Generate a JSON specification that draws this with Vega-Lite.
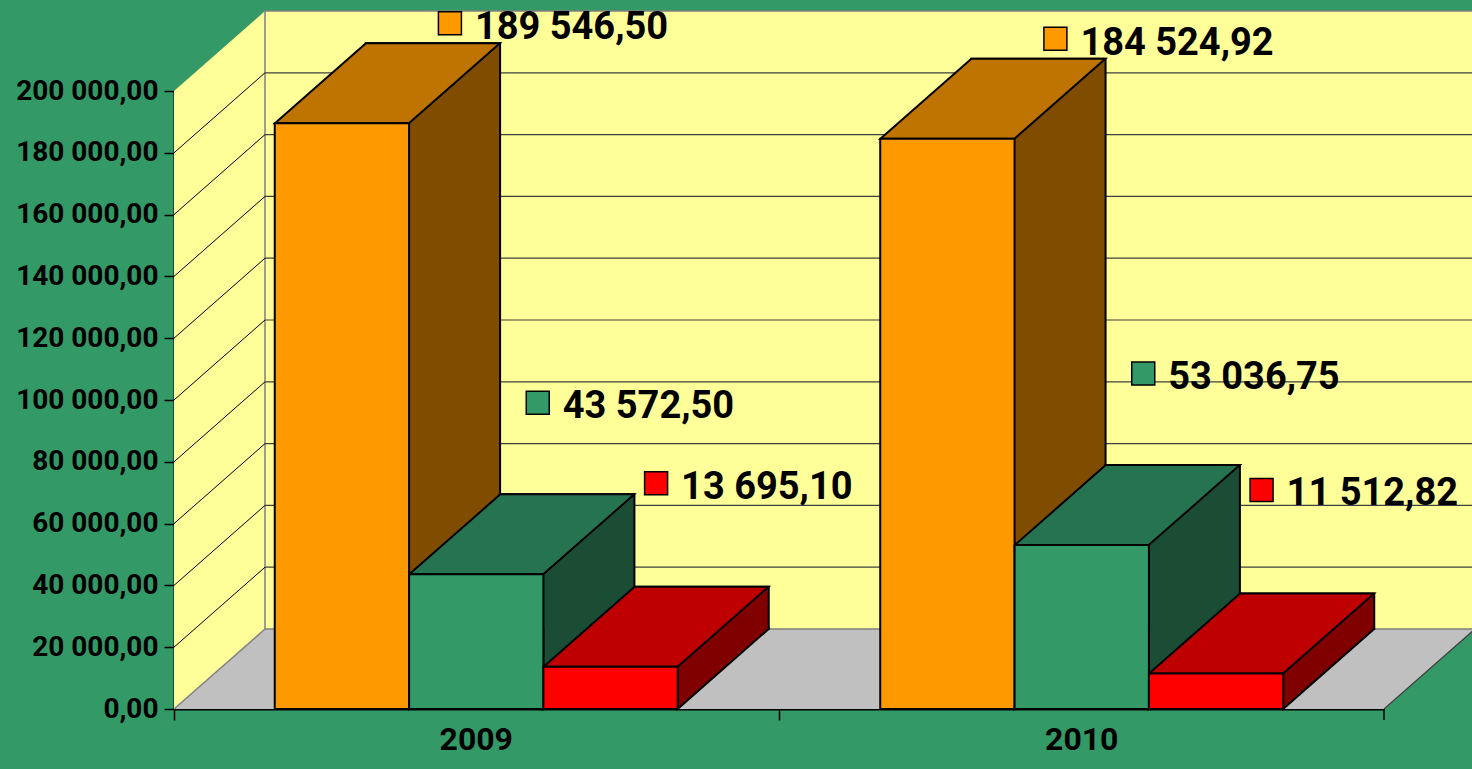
{
  "$schema": "https://vega.github.io/schema/vega-lite/v6.json",
  "width": 1210,
  "height": 618,
  "autosize": {"type": "none"},
  "padding": {"left": 174, "top": 91, "right": 88, "bottom": 60},
  "background": "#339966",
  "config": {
    "view": {"stroke": null},
    "axis": {"zindex": 1},
    "locale": {"number": {"decimal": ",", "thousands": " ", "grouping": [3], "currency": ["", ""]}}
  },
  "datasets": {
    "bars": [
      {"year": "2009", "series": "Ряд 1", "value": 189546.50},
      {"year": "2009", "series": "Ряд 2", "value": 43572.50},
      {"year": "2009", "series": "Ряд 3", "value": 13695.10},
      {"year": "2010", "series": "Ряд 1", "value": 184524.92},
      {"year": "2010", "series": "Ряд 2", "value": 53036.75},
      {"year": "2010", "series": "Ряд 3", "value": 11512.82}
    ],
    "ticks": [
      {"v": 20000}, {"v": 40000}, {"v": 60000}, {"v": 80000}, {"v": 100000},
      {"v": 120000}, {"v": 140000}, {"v": 160000}, {"v": 180000}
    ],
    "frame": [{}]
  },
  "resolve": {"scale": {"fill": "independent", "xOffset": "independent"}},
  "layer": [
    {
      "data": {"name": "frame"},
      "mark": {"type": "rect", "fill": "#c0c0c0", "yOffset": -80},
      "encoding": {
        "x": {"value": 0}, "x2": {"value": "width"},
        "y": {"datum": 0, "title": null}, "y2": {"datum": 0}
      }
    },
    {
      "data": {"name": "frame"},
      "mark": {"type": "point", "shape": "M-1,0 L0,0 L91,-80 L-1,-80 Z", "size": 4, "filled": true, "opacity": 1, "fill": "#c0c0c0", "strokeWidth": 0},
      "encoding": {"x": {"value": "width"}, "y": {"datum": 0, "title": null}}
    },
    {
      "data": {"name": "frame"},
      "mark": {"type": "rule", "stroke": "#404040", "strokeWidth": 1.2, "x2Offset": 91, "y2Offset": -80},
      "encoding": {
        "x": {"value": "width"}, "x2": {"value": "width"},
        "y": {"datum": 0, "title": null}, "y2": {"datum": 0}
      }
    },
    {
      "data": {"name": "frame"},
      "mark": {"type": "rule", "stroke": "#000000", "strokeWidth": 1.5, "y2Offset": 11},
      "encoding": {
        "x": {"value": "width"},
        "y": {"datum": 0, "title": null}, "y2": {"datum": 0}
      }
    },
    {
      "data": {"name": "frame"},
      "mark": {"type": "rect", "fill": "#ffff99", "x2Offset": 91, "y2Offset": -80},
      "encoding": {
        "x": {"value": 0}, "x2": {"value": 0},
        "y": {"datum": 200000, "title": null}, "y2": {"datum": 0}
      }
    },
    {
      "data": {"name": "frame"},
      "mark": {"type": "point", "shape": "M0,0 L91,-80 L91,1 L0,1 Z", "size": 4, "filled": true, "opacity": 1, "fill": "#ffff99", "strokeWidth": 0},
      "encoding": {"x": {"value": 0}, "y": {"datum": 200000, "title": null}}
    },
    {
      "data": {"name": "frame"},
      "mark": {"type": "point", "shape": "M0,0 L0,-81 L91,-81 L91,-80 Z", "size": 4, "filled": true, "opacity": 1, "fill": "#ffff99", "strokeWidth": 0},
      "encoding": {"x": {"value": 0}, "y": {"datum": 0, "title": null}}
    },
    {
      "data": {"name": "frame"},
      "mark": {"type": "rule", "stroke": "#808080", "strokeWidth": 1.5, "x2Offset": 91, "y2Offset": -80},
      "encoding": {
        "x": {"value": 0}, "x2": {"value": 0},
        "y": {"datum": 0, "title": null}, "y2": {"datum": 0}
      }
    },
    {
      "data": {"name": "frame"},
      "mark": {"type": "rect", "fill": "#ffff99", "stroke": "#808080", "strokeWidth": 1.5, "xOffset": 91, "x2Offset": 91, "yOffset": -80, "y2Offset": -80},
      "encoding": {
        "x": {"value": 0}, "x2": {"value": "width"},
        "y": {"datum": 200000, "title": null}, "y2": {"datum": 0}
      }
    },
    {
      "data": {"name": "ticks"},
      "mark": {"type": "rule", "stroke": "#404040", "strokeWidth": 1.2, "xOffset": 91, "x2Offset": 91, "yOffset": -80},
      "encoding": {
        "x": {"value": 0}, "x2": {"value": "width"},
        "y": {"field": "v", "type": "quantitative", "title": null}
      }
    },
    {
      "data": {"name": "ticks"},
      "mark": {"type": "rule", "stroke": "#000000", "strokeWidth": 1, "x2Offset": 91, "y2Offset": -80},
      "encoding": {
        "x": {"value": 0}, "x2": {"value": 0},
        "y": {"field": "v", "type": "quantitative", "title": null}, "y2": {"field": "v"}
      }
    },
    {
      "data": {"name": "bars"},
      "mark": {"type": "bar", "stroke": "black", "strokeWidth": 2, "yOffset": -80, "y2Offset": -80},
      "encoding": {
        "x": {"field": "year", "type": "nominal", "title": null},
        "xOffset": {"field": "series", "type": "nominal", "scale": {"type": "band", "domain": ["Ряд 1", "Ряд 2", "Ряд 3"], "range": [91, 494], "paddingInner": 0, "paddingOuter": 0}},
        "y": {"field": "value", "type": "quantitative", "stack": null, "title": null},
        "y2": {"datum": 0},
        "fill": {"field": "series", "type": "nominal", "scale": {"domain": ["Ряд 1", "Ряд 2", "Ряд 3"], "range": ["#804d00", "#1a4d33", "#800000"]}, "legend": null}
      }
    },
    {
      "data": {"name": "bars"},
      "mark": {"type": "point", "shape": "M67,-82 L67,0 L158,-80 L158,-82", "size": 4, "filled": true, "opacity": 1, "stroke": "black", "strokeWidth": 2},
      "encoding": {
        "x": {"field": "year", "type": "nominal", "title": null},
        "xOffset": {"field": "series", "type": "nominal", "scale": {"type": "band", "domain": ["Ряд 1", "Ряд 2", "Ряд 3"], "paddingInner": 0, "paddingOuter": 0}},
        "y": {"datum": 0, "title": null},
        "fill": {"field": "series", "type": "nominal", "scale": {"domain": ["Ряд 1", "Ряд 2", "Ряд 3"], "range": ["#804d00", "#1a4d33", "#800000"]}, "legend": null}
      }
    },
    {
      "data": {"name": "bars"},
      "mark": {"type": "point", "shape": "M-67,0 L67,0 L158,-80 L24,-80 Z", "size": 4, "filled": true, "opacity": 1, "stroke": "black", "strokeWidth": 2},
      "encoding": {
        "x": {"field": "year", "type": "nominal", "title": null},
        "xOffset": {"field": "series", "type": "nominal", "scale": {"type": "band", "domain": ["Ряд 1", "Ряд 2", "Ряд 3"], "paddingInner": 0, "paddingOuter": 0}},
        "y": {"field": "value", "type": "quantitative", "title": null},
        "fill": {"field": "series", "type": "nominal", "scale": {"domain": ["Ряд 1", "Ряд 2", "Ряд 3"], "range": ["#bf7300", "#267350", "#bf0000"]}, "legend": null}
      }
    },
    {
      "data": {"name": "bars"},
      "mark": {"type": "bar", "stroke": "black", "strokeWidth": 2},
      "encoding": {
        "x": {
          "field": "year", "type": "nominal", "title": null,
          "scale": {"paddingInner": 0.3344, "paddingOuter": 0.1664},
          "axis": {
            "title": null, "labelAngle": 0, "labelAlign": "center", "labelFont": "Roboto", "labelFontWeight": "bold", "labelFontSize": 32,
            "labelColor": "black", "labelPadding": 19, "bandPosition": -0.25, "tickSize": 11, "tickColor": "black",
            "tickWidth": 1.5, "domainColor": "black", "domainWidth": 2
          }
        },
        "xOffset": {"field": "series", "type": "nominal", "scale": {"type": "band", "domain": ["Ряд 1", "Ряд 2", "Ряд 3"], "paddingInner": 0, "paddingOuter": 0}},
        "y": {
          "field": "value", "type": "quantitative", "stack": null, "title": null,
          "scale": {"domain": [0, 200000], "nice": false},
          "axis": {
            "title": null, "grid": false, "values": [0, 20000, 40000, 60000, 80000, 100000, 120000, 140000, 160000, 180000, 200000],
            "format": ",.2f", "labelFont": "Roboto", "labelFontWeight": "bold", "labelFontSize": 28, "labelColor": "black",
            "labelPadding": 6, "tickSize": 10, "tickColor": "black", "tickWidth": 1.5, "domainColor": "black", "domainWidth": 2
          }
        },
        "y2": {"datum": 0},
        "fill": {"field": "series", "type": "nominal", "scale": {"domain": ["Ряд 1", "Ряд 2", "Ряд 3"], "range": ["#ff9900", "#339966", "#ff0000"]}, "legend": null}
      }
    },
    {
      "data": {"name": "bars"},
      "transform": [{"filter": "datum.series === 'Ряд 1'"}],
      "encoding": {
        "x": {"field": "year", "type": "nominal", "title": null},
        "xOffset": {"field": "series", "type": "nominal", "scale": {"type": "band", "domain": ["Ряд 1", "Ряд 2", "Ряд 3"], "paddingInner": 0, "paddingOuter": 0}},
        "y": {"field": "value", "type": "quantitative", "title": null}
      },
      "layer": [
        {"mark": {"type": "point", "shape": "M96.5,-111.5 h23 v23 h-23 Z", "size": 4, "filled": true, "opacity": 1, "fill": "#ff9900", "stroke": "black", "strokeWidth": 1.5}},
        {"mark": {"type": "text", "font": "Roboto", "fontWeight": "bold", "fontSize": 38, "color": "black", "align": "left", "baseline": "alphabetic", "dx": 133, "dy": -84},
         "encoding": {"text": {"field": "value", "type": "quantitative", "format": ",.2f"}}}
      ]
    },
    {
      "data": {"name": "bars"},
      "transform": [{"filter": "datum.series === 'Ряд 2'"}],
      "encoding": {
        "x": {"field": "year", "type": "nominal", "title": null},
        "xOffset": {"field": "series", "type": "nominal", "scale": {"type": "band", "domain": ["Ряд 1", "Ряд 2", "Ряд 3"], "paddingInner": 0, "paddingOuter": 0}},
        "y": {"field": "value", "type": "quantitative", "title": null}
      },
      "layer": [
        {"mark": {"type": "point", "shape": "M50,-183 h23 v23 h-23 Z", "size": 4, "filled": true, "opacity": 1, "fill": "#339966", "stroke": "black", "strokeWidth": 1.5}},
        {"mark": {"type": "text", "font": "Roboto", "fontWeight": "bold", "fontSize": 38, "color": "black", "align": "left", "baseline": "alphabetic", "dx": 86.5, "dy": -156},
         "encoding": {"text": {"field": "value", "type": "quantitative", "format": ",.2f"}}}
      ]
    },
    {
      "data": {"name": "bars"},
      "transform": [{"filter": "datum.series === 'Ряд 3'"}],
      "encoding": {
        "x": {"field": "year", "type": "nominal", "title": null},
        "xOffset": {"field": "series", "type": "nominal", "scale": {"type": "band", "domain": ["Ряд 1", "Ряд 2", "Ряд 3"], "paddingInner": 0, "paddingOuter": 0}},
        "y": {"field": "value", "type": "quantitative", "title": null}
      },
      "layer": [
        {"mark": {"type": "point", "shape": "M34,-195 h23 v23 h-23 Z", "size": 4, "filled": true, "opacity": 1, "fill": "#ff0000", "stroke": "black", "strokeWidth": 1.5}},
        {"mark": {"type": "text", "font": "Roboto", "fontWeight": "bold", "fontSize": 38, "color": "black", "align": "left", "baseline": "alphabetic", "dx": 70.5, "dy": -168},
         "encoding": {"text": {"field": "value", "type": "quantitative", "format": ",.2f"}}}
      ]
    }
  ]
}
